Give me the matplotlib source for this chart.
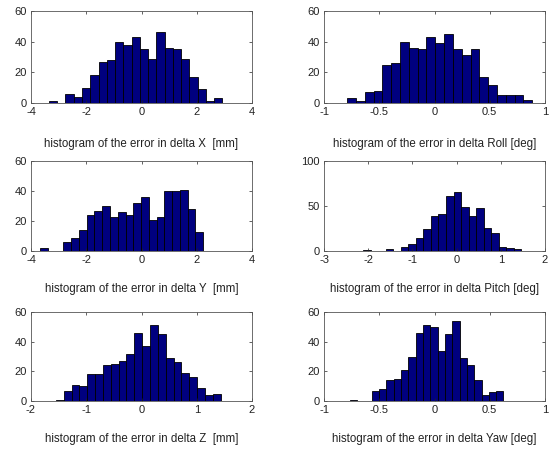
import matplotlib
matplotlib.use("Agg")
import matplotlib.pyplot as plt
import numpy as np

plt.rcParams['font.family'] = ['Liberation Sans', 'DejaVu Sans']
plt.rcParams['axes.unicode_minus'] = False

# Histogram data: first bin left edge, bin width, counts
x_start, x_width = -3.35, 0.299
x_counts = [1, 0, 6, 4, 10, 18, 27, 28, 40, 38, 43, 35, 29, 46, 36, 35, 29, 17, 9, 1, 3]

roll_start, roll_width = -0.79, 0.0797
roll_counts = [3, 1, 7, 8, 25, 26, 40, 36, 35, 43, 39, 45, 35, 31, 35, 17, 12, 5, 5, 5, 2]

y_start, y_width = -3.67, 0.281
y_counts = [2, 0, 0, 6, 9, 14, 24, 27, 30, 23, 26, 24, 32, 36, 21, 23, 40, 40, 41, 28, 13]

pitch_start, pitch_width = -2.11, 0.170
pitch_counts = [1, 0, 0, 2, 0, 5, 8, 15, 25, 39, 41, 61, 66, 49, 39, 48, 26, 20, 4, 3, 2]

z_start, z_width = -1.55, 0.142
z_counts = [1, 7, 11, 10, 18, 18, 24, 25, 27, 32, 46, 37, 51, 45, 29, 26, 19, 16, 9, 4, 5]

yaw_start, yaw_width = -0.768, 0.0663
yaw_counts = [1, 0, 0, 7, 8, 14, 15, 21, 30, 46, 51, 50, 34, 45, 54, 29, 24, 14, 4, 6, 7]

labels = [
    "histogram of the error in delta X  [mm]",
    "histogram of the error in delta Roll [deg]",
    "histogram of the error in delta Y  [mm]",
    "histogram of the error in delta Pitch [deg]",
    "histogram of the error in delta Z  [mm]",
    "histogram of the error in delta Yaw [deg]",
]
xlims = [(-4, 4), (-1, 1), (-4, 4), (-3, 2), (-2, 2), (-1, 1)]
xticks = [[-4, -2, 0, 2, 4], [-1, -0.5, 0, 0.5, 1], [-4, -2, 0, 2, 4],
          [-3, -2, -1, 0, 1, 2], [-2, -1, 0, 1, 2], [-1, -0.5, 0, 0.5, 1]]
ylims = [(0, 60), (0, 60), (0, 60), (0, 100), (0, 60), (0, 60)]
yticks = [[0, 20, 40, 60], [0, 20, 40, 60], [0, 20, 40, 60], [0, 50, 100],
          [0, 20, 40, 60], [0, 20, 40, 60]]
data = [(x_start, x_width, x_counts), (roll_start, roll_width, roll_counts),
        (y_start, y_width, y_counts), (pitch_start, pitch_width, pitch_counts),
        (z_start, z_width, z_counts), (yaw_start, yaw_width, yaw_counts)]

W, H = 552, 451
fig = plt.figure(figsize=(W / 100, H / 100), dpi=100)
fig.patch.set_facecolor('white')

cols = [(31, 252), (324, 545)]
rows = [(11, 103), (161, 251), (312, 401)]
pads = [15, 13, 13]

def fmt(v):
    if float(v).is_integer():
        return str(int(v))
    return ("%g" % v)

for i in range(6):
    r, c = divmod(i, 2)
    x0, x1 = cols[c]
    t, b = rows[r]
    ax = fig.add_axes([x0 / W, 1 - b / H, (x1 - x0) / W, (b - t) / H])
    start, width, counts = data[i]
    counts = np.asarray(counts)
    lefts = start + width * np.arange(len(counts))
    ax.bar(lefts, counts, width=width, align='edge', color='#00007F',
           edgecolor='black', linewidth=0.6)
    ax.set_xlim(*xlims[i])
    ax.set_ylim(*ylims[i])
    ax.set_xticks(xticks[i])
    ax.set_xticklabels([fmt(v) for v in xticks[i]])
    ax.set_yticks(yticks[i])
    ax.set_yticklabels([fmt(v) for v in yticks[i]])
    ax.tick_params(direction='in', length=2.5, width=0.5, labelsize=8,
                   top=True, right=True, pad=3, colors='#222222')
    for s in ax.spines.values():
        s.set_linewidth(0.6)
        s.set_color('#555555')
    ax.set_xlabel(labels[i], fontsize=8.3, labelpad=pads[r], color='#222222')

fig.savefig("out.png", dpi=100)
